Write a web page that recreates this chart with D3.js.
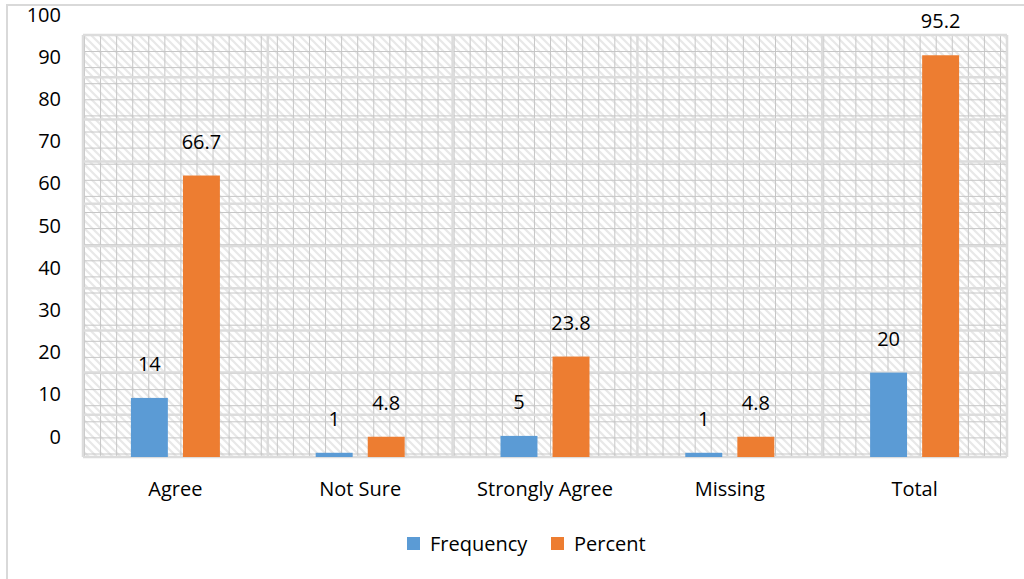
<!DOCTYPE html>
<html>
<head>
<meta charset="utf-8">
<script src="https://cdn.jsdelivr.net/npm/d3@7"></script>
<style>
  html, body { margin: 0; padding: 0; background: #fff; }
  svg { display: block; font-family: "Open Sans", Lato, sans-serif; }
</style>
</head>
<body>
<svg id="chart" width="1024" height="579"></svg>
<script>
// Responses and their share of the total
const categories = ["Agree", "Not Sure", "Strongly Agree", "Missing", "Total"];
const frequency = [14, 1, 5, 1, 20];
const percent = [66.7, 4.8, 23.8, 4.8, 95.2];
const seriesNames = ["Frequency", "Percent"];
const seriesColors = ["#5b9bd5", "#ed7d31"];
const yTicks = [0, 10, 20, 30, 40, 50, 60, 70, 80, 90, 100];

const FONT = "'Open Sans', Lato, sans-serif";
const FS = 20;

const svg = d3.select("#chart");
const W = 1024, H = 579;
const plot = { left: 83, top: 35, right: 1007, bottom: 457 };

// outer chart frame (left and top edges visible)
svg.append("path")
  .attr("d", `M7,${H} L7,5 L${W},5`)
  .attr("fill", "none")
  .attr("stroke", "#d9d9d9")
  .attr("stroke-width", 2);

const x = d3.scaleBand().domain(categories).range([plot.left, plot.right]);
const x1 = d3.scaleBand().domain(seriesNames)
  .range([x.bandwidth() / 2 - 44.5, x.bandwidth() / 2 + 44.5])
  .paddingInner(0.29);
const y = d3.scaleLinear().domain([0, 100]).range([plot.bottom, plot.top]);

// diagonal hatch fill for the plot area
const defs = svg.append("defs");
const pat = defs.append("pattern")
  .attr("id", "hatch")
  .attr("patternUnits", "userSpaceOnUse")
  .attr("width", 8).attr("height", 8);
pat.append("rect").attr("width", 8).attr("height", 8).attr("fill", "#ffffff");
pat.append("path")
  .attr("d", "M-2,-2 L10,10 M-2,6 L2,10 M6,-2 L10,2")
  .attr("stroke", "#e8e8e8")
  .attr("stroke-width", 2.2);

svg.append("rect")
  .attr("x", plot.left).attr("y", plot.top)
  .attr("width", plot.right - plot.left)
  .attr("height", plot.bottom - plot.top)
  .attr("fill", "url(#hatch)");

// fine grid
const grid = svg.append("g");
const step = 16.07;
grid.selectAll("line.vmin")
  .data(d3.range(plot.left + 1.5, plot.right, step))
  .join("line")
  .attr("x1", d => d).attr("x2", d => d)
  .attr("y1", plot.top).attr("y2", plot.bottom)
  .attr("stroke", "#c6c6c6").attr("stroke-width", 1);
grid.selectAll("line.hmin")
  .data(d3.range(plot.bottom - 3, plot.top, -16.1))
  .join("line")
  .attr("x1", plot.left).attr("x2", plot.right)
  .attr("y1", d => d).attr("y2", d => d)
  .attr("stroke", "#c6c6c6").attr("stroke-width", 1);

// major grid lines: value gridlines and category separators
grid.selectAll("line.hmaj")
  .data(yTicks)
  .join("line")
  .attr("x1", plot.left).attr("x2", plot.right)
  .attr("y1", d => y(d)).attr("y2", d => y(d))
  .attr("stroke", "#dcdcdc").attr("stroke-width", 2.5);
grid.selectAll("line.vmaj")
  .data(categories.map(c => x(c)).concat([plot.right]))
  .join("line")
  .attr("x1", d => d).attr("x2", d => d)
  .attr("y1", plot.top).attr("y2", plot.bottom)
  .attr("stroke", "#dcdcdc").attr("stroke-width", 2.5);

// y axis labels
const yAxis = d3.axisLeft(y).tickValues(yTicks).tickSize(0).tickPadding(0);
const yg = svg.append("g")
  .attr("transform", `translate(61,0)`)
  .call(yAxis);
yg.select(".domain").remove();
yg.selectAll("text")
  .attr("dy", "-0.7em")
  .attr("font-size", FS)
  .attr("font-family", FONT)
  .attr("fill", "#000");

// bars
const rows = categories.map((c, i) => ({ cat: c, vals: [frequency[i], percent[i]] }));
const groups = svg.append("g").selectAll("g")
  .data(rows)
  .join("g")
  .attr("transform", d => `translate(${x(d.cat)},0)`);

groups.selectAll("rect")
  .data(d => d.vals.map((v, j) => ({ name: seriesNames[j], v, j })))
  .join("rect")
  .attr("x", d => x1(d.name))
  .attr("width", x1.bandwidth())
  .attr("y", d => y(d.v))
  .attr("height", d => plot.bottom - y(d.v))
  .attr("fill", d => seriesColors[d.j]);

groups.selectAll("text")
  .data(d => d.vals.map((v, j) => ({ name: seriesNames[j], v, j })))
  .join("text")
  .attr("x", d => x1(d.name) + x1.bandwidth() / 2)
  .attr("y", d => y(d.v) - 27)
  .attr("text-anchor", "middle")
  .attr("font-size", FS)
  .attr("fill", "#000")
  .text(d => d.v);

// category labels
const xAxis = d3.axisBottom(x).tickSize(0).tickPadding(0);
const xg = svg.append("g")
  .attr("transform", `translate(0,${plot.bottom + 25})`)
  .call(xAxis);
xg.select(".domain").remove();
xg.selectAll("text")
  .attr("font-size", FS)
  .attr("font-family", FONT)
  .attr("fill", "#000");

// legend
const legendX = [407, 551];
const legend = svg.append("g").selectAll("g")
  .data(seriesNames)
  .join("g")
  .attr("transform", (d, i) => `translate(${legendX[i]},537)`);
legend.append("rect")
  .attr("width", 13).attr("height", 13)
  .attr("fill", (d, i) => seriesColors[i]);
legend.append("text")
  .attr("x", 23).attr("y", 14)
  .attr("font-size", FS)
  .attr("fill", "#000")
  .text(d => d);
</script>
</body>
</html>
